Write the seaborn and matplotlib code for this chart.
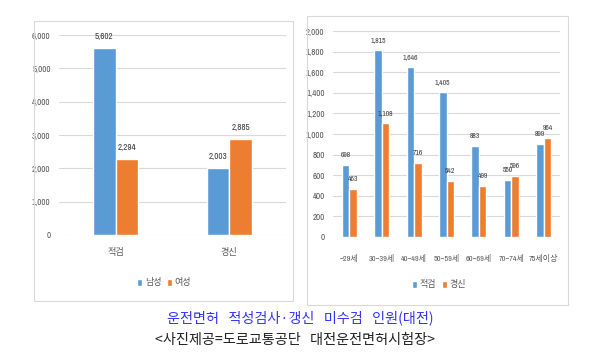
import matplotlib
matplotlib.use("Agg")
import matplotlib.pyplot as plt
import seaborn as sns
import pandas as pd
from matplotlib.patches import Rectangle

# ---- data ----
left_categories = ["적검", "경신"]
left_series = ["남성", "여성"]
left_male = [5602, 2003]
left_female = [2294, 2885]

right_categories = ["~29세", "30~39세", "40~49세", "50~59세", "60~69세", "70~74세", "75세이상"]
right_series = ["적검", "경신"]
right_check = [698, 1815, 1646, 1405, 883, 550, 899]
right_renew = [463, 1108, 716, 542, 499, 596, 964]

left_ticks = [0, 1000, 2000, 3000, 4000, 5000, 6000]
right_ticks = [0, 200, 400, 600, 800, 1000, 1200, 1400, 1600, 1800, 2000]

caption1 = "운전면허  적성검사·갱신  미수검  인원(대전)"
caption2 = "<사진제공=도로교통공단  대전운전면허시험장>"

BLUE = "#5B9BD5"
ORANGE = "#ED7D31"
GRID = "#D9D9D9"
TXT = "#595959"

sns.set_theme(style="white")
plt.rcParams['font.family'] = ['Archivo Narrow', 'Noto Sans CJK KR', 'DejaVu Sans']

W, H = 600, 357
fig = plt.figure(figsize=(W / 100, H / 100), dpi=100)
fig.patch.set_facecolor("white")

def fr(x0, y0, x1, y1):
    return [x0 / W, 1 - y1 / H, (x1 - x0) / W, (y1 - y0) / H]

# panel borders
for (x0, y0, x1, y1) in [(34, 21, 293, 301), (307, 16, 568, 305)]:
    fig.patches.append(Rectangle((x0 / W, 1 - y1 / H), (x1 - x0) / W, (y1 - y0) / H,
                                 transform=fig.transFigure, fill=False,
                                 edgecolor="#D9D9D9", linewidth=0.8))

def make_chart(rect, cats, series, v1, v2, ticks, width, xpad, xsize, lsize, legend_xy):
    ax = fig.add_axes(rect)
    df = pd.DataFrame({
        "cat": cats * 2,
        "series": [series[0]] * len(cats) + [series[1]] * len(cats),
        "value": v1 + v2,
    })
    sns.barplot(data=df, x="cat", y="value", hue="series", order=cats,
                hue_order=series, palette=[BLUE, ORANGE], width=width,
                gap=0, saturation=1, ax=ax, legend=True, errorbar=None)
    ax.set_ylim(ticks[0], ticks[-1])
    ax.set_xlim(-0.5, len(cats) - 0.5)
    ax.set_yticks(ticks)
    ax.set_yticklabels([f"{t:,}" for t in ticks])
    ax.yaxis.grid(True, color=GRID, linewidth=0.8)
    ax.set_axisbelow(True)
    for s in ax.spines.values():
        s.set_visible(False)
    ax.tick_params(axis="y", length=0, pad=6, labelsize=6.4, labelcolor=TXT)
    ax.tick_params(axis="x", length=0, pad=xpad, labelsize=xsize, labelcolor=TXT)
    ax.set_xlabel("")
    ax.set_ylabel("")
    for cont in ax.containers:
        ax.bar_label(cont, labels=[f"{int(v):,}" for v in cont.datavalues],
                     padding=5, fontsize=lsize, color="#404040")
    ax.legend(loc="center", bbox_to_anchor=legend_xy, bbox_transform=fig.transFigure,
              ncol=2, frameon=False, fontsize=6.5, handlelength=0.6, handleheight=0.9,
              handletextpad=0.3, columnspacing=0.6, labelcolor=TXT)
    return ax

make_chart(fr(59, 35, 286, 235), left_categories, left_series, left_male, left_female,
           left_ticks, 0.4, 9, 6.6, 6.6, (164 / W, 1 - 283 / H))
make_chart(fr(333, 31, 560, 237), right_categories, right_series, right_check, right_renew,
           right_ticks, 0.46, 12, 5.8, 5.5, (439 / W, 1 - 285 / H))

fig.text(300 / W, 1 - 318 / H, caption1.replace("  ", "   "), ha="center", va="center",
         fontsize=10.2, color="#3333FF", family=['Noto Sans CJK KR', 'DejaVu Sans'])
fig.text(295 / W, 1 - 340 / H, caption2.replace("  ", "   "), ha="center", va="center",
         fontsize=10.2, color="#222222", family=['Noto Sans CJK KR', 'DejaVu Sans'])

fig.savefig("out.png", dpi=100, facecolor="white")
